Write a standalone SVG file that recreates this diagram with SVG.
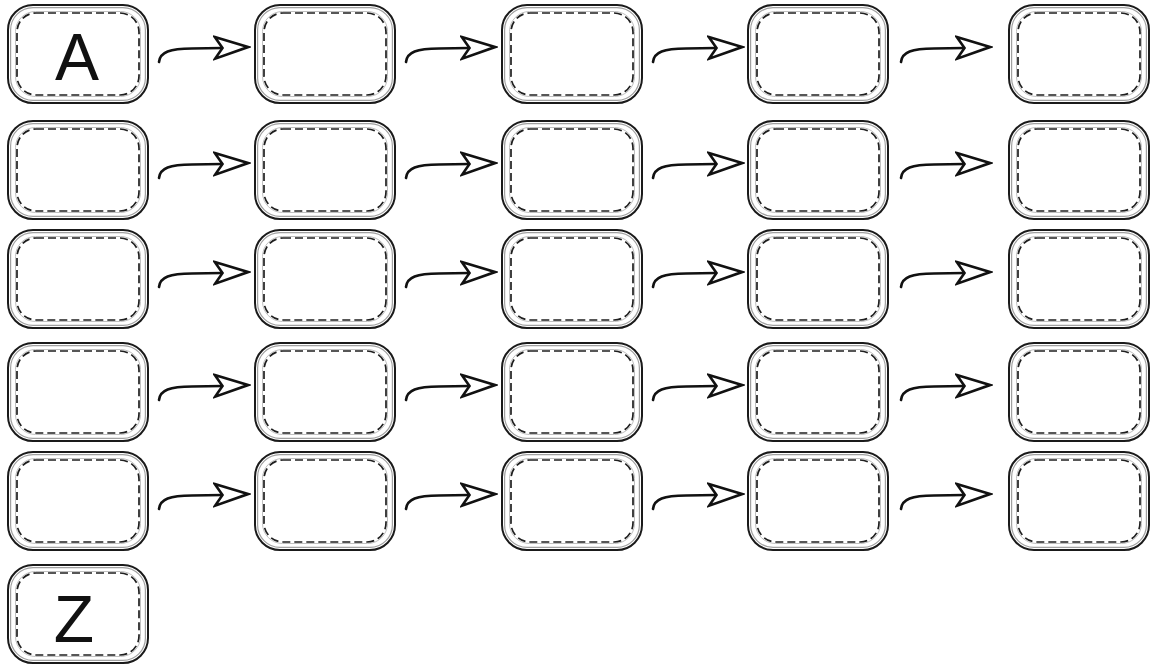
<svg xmlns="http://www.w3.org/2000/svg" width="1153" height="665" viewBox="0 0 1153 665">
<style>
.o{fill:#fff;stroke:#1a1a1a;stroke-width:2}
.o2{fill:none;stroke:#a0a0a0;stroke-width:1.2}
.d{fill:none;stroke:#1f1f1f;stroke-width:1.7;stroke-dasharray:8 4}
.d2{fill:none;stroke:#c0c0c0;stroke-width:1}
.t{font-family:"Liberation Sans",Arial,sans-serif;font-size:66px;fill:#111;text-anchor:middle}
.c{fill:none;stroke:#111;stroke-width:2.6;stroke-linecap:round}
</style>
<defs>
<g id="box">
<rect class="o" x="0" y="0" width="140" height="98" rx="25"/>
<rect class="o2" x="2.6" y="2.6" width="134.8" height="92.8" rx="22.5"/>
<rect class="d2" x="7.5" y="6.5" width="125" height="85" rx="20"/>
<rect class="d" x="9" y="8" width="122" height="82" rx="19"/>
</g>
<marker id="ah" markerUnits="userSpaceOnUse" markerWidth="38" markerHeight="26" viewBox="0 0 38 26" refX="9" refY="13" orient="auto">
<path d="M2,2 L35,12.5 L2,23.5 L9.5,13 Z" fill="#fff" stroke="#111" stroke-width="2.6" stroke-linejoin="miter"/>
</marker>
</defs>
<g id="n-A"><use href="#box" x="8" y="5"/><text class="t" x="77" y="80">A</text></g>
<g id="n-1-2"><use href="#box" x="255" y="5"/></g>
<g id="n-1-3"><use href="#box" x="502" y="5"/></g>
<g id="n-1-4"><use href="#box" x="748" y="5"/></g>
<g id="n-1-5"><use href="#box" x="1009" y="5"/></g>
<g id="n-2-1"><use href="#box" x="8" y="121"/></g>
<g id="n-2-2"><use href="#box" x="255" y="121"/></g>
<g id="n-2-3"><use href="#box" x="502" y="121"/></g>
<g id="n-2-4"><use href="#box" x="748" y="121"/></g>
<g id="n-2-5"><use href="#box" x="1009" y="121"/></g>
<g id="n-3-1"><use href="#box" x="8" y="230"/></g>
<g id="n-3-2"><use href="#box" x="255" y="230"/></g>
<g id="n-3-3"><use href="#box" x="502" y="230"/></g>
<g id="n-3-4"><use href="#box" x="748" y="230"/></g>
<g id="n-3-5"><use href="#box" x="1009" y="230"/></g>
<g id="n-4-1"><use href="#box" x="8" y="343"/></g>
<g id="n-4-2"><use href="#box" x="255" y="343"/></g>
<g id="n-4-3"><use href="#box" x="502" y="343"/></g>
<g id="n-4-4"><use href="#box" x="748" y="343"/></g>
<g id="n-4-5"><use href="#box" x="1009" y="343"/></g>
<g id="n-5-1"><use href="#box" x="8" y="452"/></g>
<g id="n-5-2"><use href="#box" x="255" y="452"/></g>
<g id="n-5-3"><use href="#box" x="502" y="452"/></g>
<g id="n-5-4"><use href="#box" x="748" y="452"/></g>
<g id="n-5-5"><use href="#box" x="1009" y="452"/></g>
<g id="n-Z"><use href="#box" x="8" y="565"/><text class="t" x="74" y="642">Z</text></g>
<g id="connectors" marker-end="url(#ah)">
<path class="c" d="M159,62 C160,52 170,48.5 192,48.5 L222,48"/>
<path class="c" d="M406,62 C407,52 417,48.5 439,48.5 L469,48"/>
<path class="c" d="M653,62 C654,52 664,48.5 686,48.5 L716,48"/>
<path class="c" d="M901,62 C902,52 912,48.5 934,48.5 L964,48"/>
<path class="c" d="M159,178 C160,168 170,164.5 192,164.5 L222,164"/>
<path class="c" d="M406,178 C407,168 417,164.5 439,164.5 L469,164"/>
<path class="c" d="M653,178 C654,168 664,164.5 686,164.5 L716,164"/>
<path class="c" d="M901,178 C902,168 912,164.5 934,164.5 L964,164"/>
<path class="c" d="M159,287 C160,277 170,273.5 192,273.5 L222,273"/>
<path class="c" d="M406,287 C407,277 417,273.5 439,273.5 L469,273"/>
<path class="c" d="M653,287 C654,277 664,273.5 686,273.5 L716,273"/>
<path class="c" d="M901,287 C902,277 912,273.5 934,273.5 L964,273"/>
<path class="c" d="M159,400 C160,390 170,386.5 192,386.5 L222,386"/>
<path class="c" d="M406,400 C407,390 417,386.5 439,386.5 L469,386"/>
<path class="c" d="M653,400 C654,390 664,386.5 686,386.5 L716,386"/>
<path class="c" d="M901,400 C902,390 912,386.5 934,386.5 L964,386"/>
<path class="c" d="M159,509 C160,499 170,495.5 192,495.5 L222,495"/>
<path class="c" d="M406,509 C407,499 417,495.5 439,495.5 L469,495"/>
<path class="c" d="M653,509 C654,499 664,495.5 686,495.5 L716,495"/>
<path class="c" d="M901,509 C902,499 912,495.5 934,495.5 L964,495"/>
</g>
</svg>
